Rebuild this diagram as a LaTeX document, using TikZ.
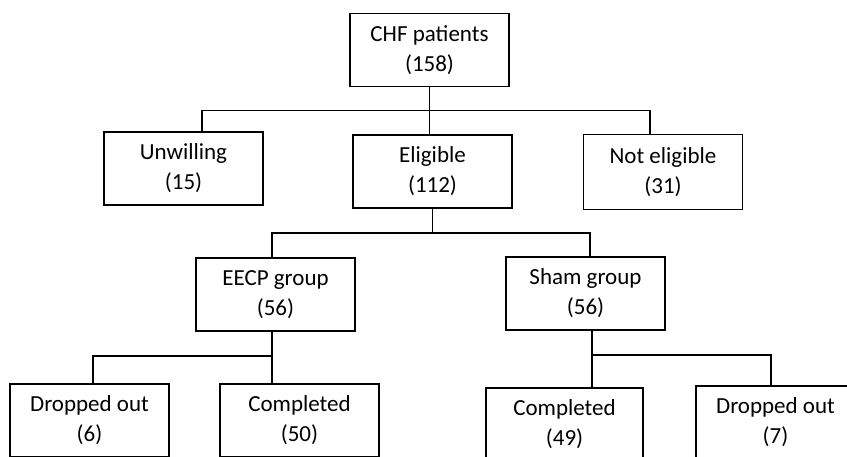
\documentclass[tikz,border=0pt]{standalone}
\usepackage{fontspec}
\setmainfont{Carlito}
\usepackage{tikz}
\usetikzlibrary{positioning,calc}

\begin{document}
\begin{tikzpicture}[x=1pt,y=-1pt,
    box/.style={draw,line width=1.8pt,minimum width=159pt,minimum height=73pt,
        align=center,inner sep=0pt,font=\fontsize{23}{30}\selectfont},
    link/.style={line width=1.8pt}]
    \useasboundingbox (0,0) rectangle (847,456);
    \node[box] (chf) at (429.5,50) {CHF patients\\(158)};
    \node[box] (unw) at (183.5,168.5) {Unwilling\\(15)};
    \node[box] (elig) at (432.5,171.5) {Eligible\\(112)};
    \node[box,minimum height=75pt] (noteg) at (663,172) {Not eligible\\(31)};
    \node[box] (eecp) at (275.5,294.5) {EECP group\\(56)};
    \node[box] (sham) at (585.5,293.5) {Sham group\\(56)};
    \node[box] (dout1) at (89.5,420.5) {Dropped out\\(6)};
    \node[box] (comp1) at (299.5,420.5) {Completed\\(50)};
    \node[box,minimum width=157pt] (comp2) at (564.5,424.5) {Completed\\(49)};
    \node[box] (dout2) at (775.5,422.5) {Dropped out\\(7)};
    \coordinate (split1) at ($(chf.south)+(0,23)$);
    \coordinate (split2) at ($(elig.south)+(0,24)$);
    \coordinate (split3) at ($([xshift=-3.5pt]eecp.south)+(0,24)$);
    \coordinate (split4) at ($([xshift=6.5pt]sham.south)+(0,24)$);
    \draw[link] (chf.south) -- (chf.south |- elig.north);
    \draw[link] ([xshift=18.5pt]unw.north) |- (split1) -| ([xshift=-13pt]noteg.north);
    \draw[link] (elig.south) -- (split2);
    \draw[link] ([xshift=-3.5pt]eecp.north) |- (split2) -| ([xshift=4.5pt]sham.north);
    \draw[link] ([xshift=-3.5pt]eecp.south) -- ([xshift=-3.5pt]eecp.south |- comp1.north);
    \draw[link] (split3) -| ([xshift=3.5pt]dout1.north);
    \draw[link] ([xshift=6.5pt]sham.south) -- ([xshift=6.5pt]sham.south |- comp2.north);
    \draw[link] (split4) -| ([xshift=-4.5pt]dout2.north);
\end{tikzpicture}
\end{document}
